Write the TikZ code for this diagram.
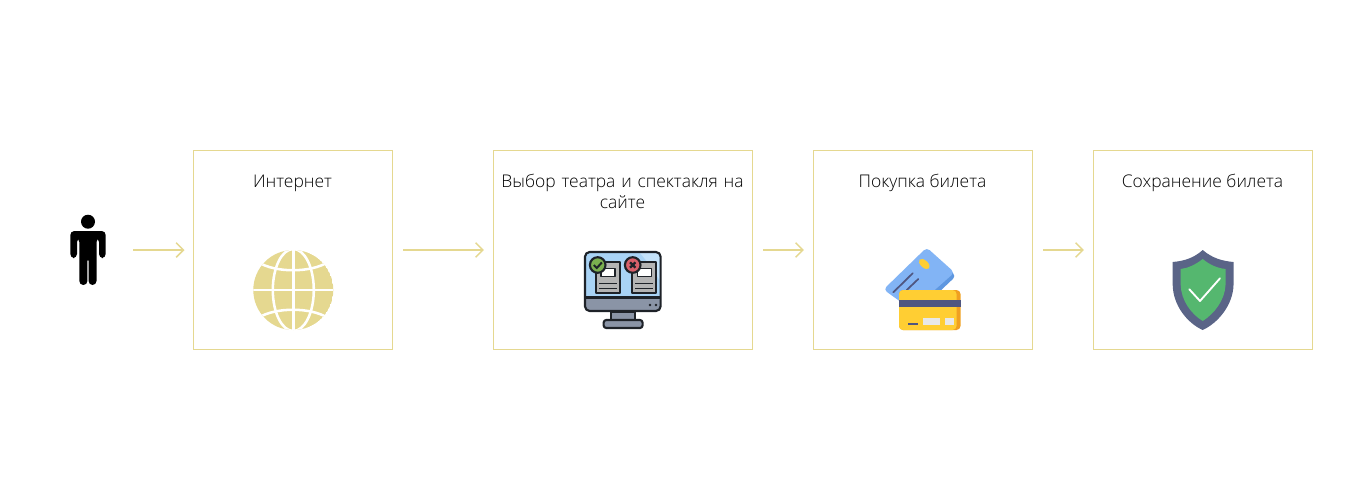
\documentclass[tikz,border=0pt]{standalone}
\usepackage{fontspec}
\setmainfont{Open Sans}[UprightFont=* Light]
\usetikzlibrary{arrows.meta}
\definecolor{sand}{HTML}{E5D890}
\definecolor{screenblue}{HTML}{A9D3F5}
\definecolor{screenlight}{HTML}{C4E2FA}
\definecolor{slategray}{HTML}{8A94A6}
\definecolor{darkline}{HTML}{1E2228}
\definecolor{docgray}{HTML}{B4B4B4}
\definecolor{okgreen}{HTML}{7BAF4F}
\definecolor{badred}{HTML}{D8606A}
\definecolor{cardblue}{HTML}{82B4F5}
\definecolor{cardedge}{HTML}{5E97E0}
\definecolor{cardyellow}{HTML}{FFCE33}
\definecolor{cardorange}{HTML}{F0A020}
\definecolor{stripe}{HTML}{4F5680}
\definecolor{shieldblue}{HTML}{5A6487}
\definecolor{shieldgreen}{HTML}{55B76F}
\tikzset{
  stagebox/.style={draw=sand,line width=0.75pt,minimum height=149.25pt,inner sep=0pt},
  flow/.style={draw=sand,line width=1.1pt,-{Straight Barb[length=5.5pt,width=11pt,line width=1.1pt]},shorten <=7.9pt,shorten >=6.4pt},
  stagetext/.style={font=\fontsize{13.1pt}{15.75pt}\selectfont,align=center,text=black,inner sep=0pt},
  monoline/.style={draw=darkline,line width=1.6pt,line join=round},
  globeline/.style={draw=white,line width=1.9pt}
}
\begin{document}
\begin{tikzpicture}[x=0.75pt,y=-0.75pt]
\useasboundingbox (0,0) rectangle (1366,500);
\fill[white] (0,0) rectangle (1366,500);
% boxes
\node[stagebox,minimum width=149.25pt] (b1) at (292.5,250) {};
\node[stagebox,minimum width=194.25pt] (b2) at (622.5,250) {};
\node[stagebox,minimum width=164.25pt] (b3) at (922.5,250) {};
\node[stagebox,minimum width=164.25pt] (b4) at (1202.5,250) {};
\node[minimum width=26.5pt,minimum height=52.5pt,inner sep=0pt] (person) at (88,250) {};
% labels
\node[stagetext,anchor=base] (t1) at (292.5,187) {Интернет};
\node[stagetext,text width=190pt] (t2) at (622.5,191.5) {Выбор театра и спектакля на\\сайте};
\node[stagetext,anchor=base] (t3) at (922.5,187) {Покупка билета};
\node[stagetext,anchor=base] (t4) at (1202.5,187) {Сохранение билета};
% connectors
\draw[flow,shorten <=20.5pt,shorten >=6pt] (person.east |- 0,250) -- (b1.west);
\draw[flow] (b1.east) -- (b2.west);
\draw[flow] (b2.east) -- (b3.west);
\draw[flow] (b3.east) -- (b4.west);
% person
\fill[black] (88,221.7) circle (7);
\fill[black,rounded corners=3pt] (70.3,258) -- (70.3,231) -- (105.7,231) -- (105.7,258) -- (99,258) -- (99,238) -- (96.5,238) -- (96.5,285) -- (88.6,285) -- (88.6,257) -- (87.4,257) -- (87.4,285) -- (79.3,285) -- (79.3,238) -- (77,238) -- (77,258) -- cycle;
% globe
\begin{scope}
\clip (293.3,290) circle (40);
\fill[sand] (293.3,290) circle (40);
\draw[globeline] (293.3,250) -- (293.3,330);
\draw[globeline] (253,290) -- (334,290);
\draw[globeline] (293.3,290) ellipse (20.5 and 41);
\draw[globeline] (258,262) .. controls (275,273) and (311,273) .. (328,262);
\draw[globeline] (258,318) .. controls (275,307) and (311,307) .. (328,318);
\end{scope}
% monitor
\fill[screenblue,rounded corners=3.5pt] (585,252) rectangle (660.6,311);
\fill[screenlight] (640,253) -- (659.5,253) -- (659.5,280) .. controls (652,268) and (646,260) .. (640,253) -- cycle;
\fill[slategray,rounded corners=3pt] (585,297.5) rectangle (660.6,311);
\draw[monoline,fill=slategray] (611,311.5) rectangle (635,320);
\draw[monoline,fill=slategray,rounded corners=2pt] (603.6,320) rectangle (642.6,328);
\draw[monoline,rounded corners=3.5pt] (585,252) rectangle (660.6,311);
\draw[monoline] (585,297.5) -- (660.6,297.5);
\fill[darkline] (650,305) circle (1.4) (656,305) circle (1.4);
\foreach \dx in {0,36.3}{
  \draw[monoline,fill=docgray] ({595.7+\dx},261.7) rectangle ({620+\dx},293.3);
  \draw[monoline,fill=white,line width=1pt] ({601+\dx},268.3) rectangle ({615+\dx},276.7);
  \draw[monoline,line width=1.2pt] ({599+\dx},283.3) -- ({616.7+\dx},283.3);
  \draw[monoline,line width=1.2pt] ({599+\dx},288.3) -- ({616.7+\dx},288.3);
}
\draw[monoline,fill=okgreen] (597.7,265) circle (7.8);
\draw[line width=1.5pt,draw=darkline] (593.8,265) -- (596.8,268) -- (601.8,262.5);
\draw[monoline,fill=badred] (632.7,265) circle (7.8);
\draw[line width=1.7pt,draw=darkline] (630,262.3) -- (635.4,267.7) (635.4,262.3) -- (630,267.7);
% cards
\fill[cardedge,rounded corners=3pt] (926.7,249) -- (956,276) -- (918,312) -- (885,290) -- cycle;
\fill[cardblue,rounded corners=3pt] (926.7,247.5) -- (954.5,272.5) -- (912,310) -- (883.5,289.5) -- cycle;
\fill[cardyellow,rotate around={-42:(924.3,264)}] (924.3,264) ellipse (6.5 and 3.6);
\draw[stripe,line width=1.3pt,line cap=round] (893.3,292.3) -- (912.7,273.3);
\draw[stripe,line width=1.3pt,line cap=round] (906.7,290) -- (918.3,279);
\fill[cardorange,rounded corners=3pt] (899,290) rectangle (960.5,330);
\fill[cardyellow,rounded corners=3pt] (899,290) rectangle (956.5,330);
\fill[stripe] (899,300) rectangle (960.5,307.3);
\fill[stripe] (908,323.3) rectangle (918.3,325);
\fill[gray!18] (923.3,318.3) rectangle (940,325);
\fill[gray!18] (945,318.3) rectangle (954,325);
% shield
\fill[shieldblue] (1202.7,250) .. controls (1194,258) and (1184,261) .. (1172.7,262) -- (1172.7,285) .. controls (1173,305) and (1187,323) .. (1202.7,330) .. controls (1218,323) and (1233,305) .. (1233.5,285) -- (1233.5,262) .. controls (1222,261) and (1212,258) .. (1202.7,250) -- cycle;
\fill[shieldgreen] (1202.7,259) .. controls (1195,265) and (1188,268) .. (1180.7,269) -- (1180.7,285) .. controls (1181,300) and (1191,314) .. (1202.7,321) .. controls (1214,314) and (1225,300) .. (1225.5,285) -- (1225.5,269) .. controls (1217,268) and (1210,265) .. (1202.7,259) -- cycle;
\draw[white,line width=1.4pt,line cap=round,line join=round] (1189.3,289.3) -- (1200,301) -- (1220,278.3);
\end{tikzpicture}
\end{document}
